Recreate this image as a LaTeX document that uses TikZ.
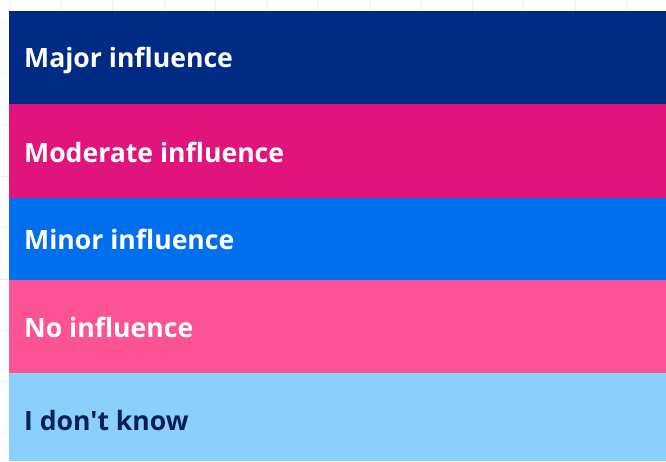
\documentclass[tikz,border=0pt]{standalone}
\usepackage{fontspec}
\setmainfont{Open Sans}[Ligatures=TeXOff]
\definecolor{majorc}{HTML}{002B85}
\definecolor{moderatec}{HTML}{E0147A}
\definecolor{minorc}{HTML}{006FEE}
\definecolor{nonec}{HTML}{FC5296}
\definecolor{unknownc}{HTML}{8BD0FD}
\definecolor{navytext}{HTML}{081E5A}
\definecolor{gridc}{HTML}{EEEEEE}
\begin{document}
\begin{tikzpicture}[x=1pt, y=-1pt,
  band/.style={anchor=north west, inner sep=0pt, outer sep=0pt, minimum width=657pt},
  lbl/.style={font=\bfseries\fontsize{26.6}{30}\selectfont, anchor=base west, inner sep=0pt}]
  \useasboundingbox (0,0) rectangle (666,461);
  \fill[white] (0,0) rectangle (666,461);
  % faint background grid
  \foreach \k in {-1,...,11} \draw[gridc, line width=1pt] (61.6+51.36*\k,0) -- (61.6+51.36*\k,461);
  \foreach \k in {0,...,8} \draw[gridc, line width=1pt] (0,22+51.4*\k) -- (666,22+51.4*\k);
  % stacked legend bands
  \foreach \n/\t/\h/\col in {major/11/93/majorc, moderate/104/93.7/moderatec, minor/197.7/82.3/minorc, none/280/93/nonec, unknown/373/88/unknownc}
    \node[band, fill=\col, minimum height=\h pt] (\n) at (9,\t) {};
  \node[lbl, white] (majorlbl) at (24,67.3) {Major influence};
  \node[lbl, white] (moderatelbl) at (24,162.3) {Moderate influence};
  \node[lbl, white] (minorlbl) at (24,249.5) {Minor influence};
  \node[lbl, white] (nonelbl) at (24,337.3) {No influence};
  \node[lbl, navytext] (unknownlbl) at (24,430.7) {I don't know};
\end{tikzpicture}
\end{document}
